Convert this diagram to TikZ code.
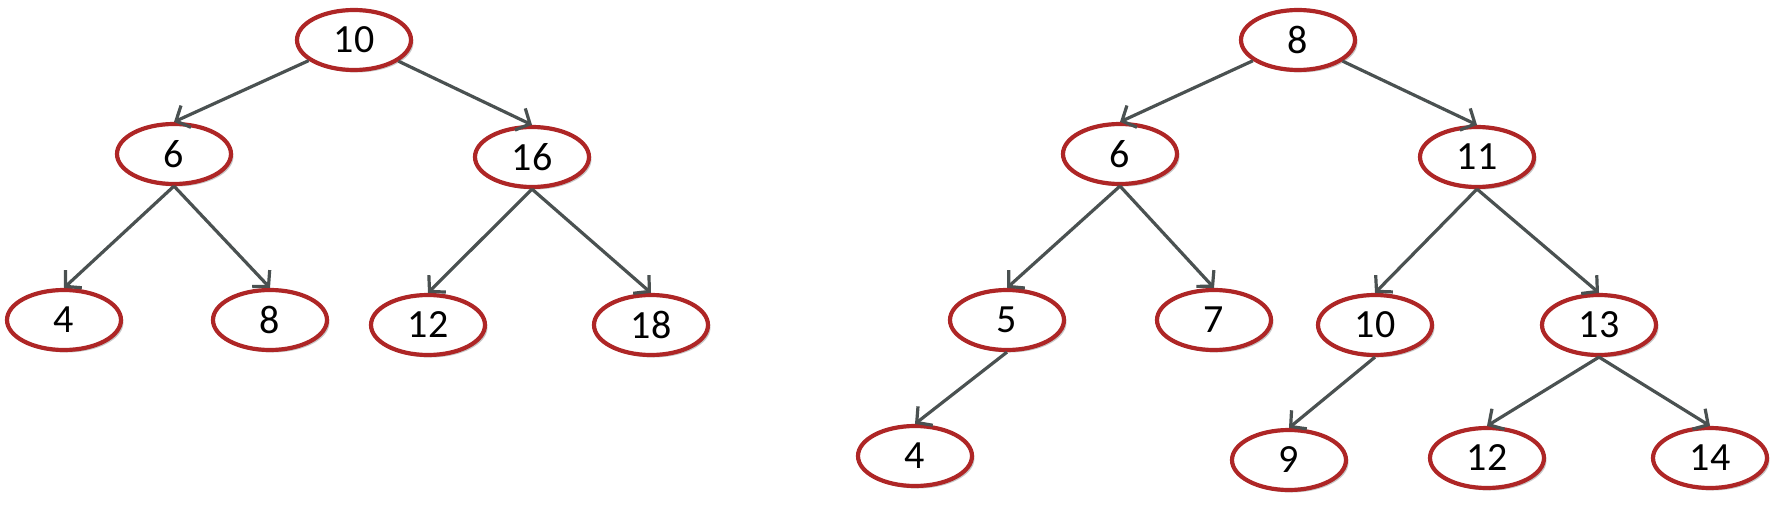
\documentclass[tikz,border=0pt]{standalone}
\usepackage{fontspec}
\setmainfont{Carlito}
\usetikzlibrary{shapes.geometric,arrows.meta,shadows}
\definecolor{nodered}{HTML}{AE2626}
\definecolor{edgegray}{HTML}{4A5151}
\tikzset{
  tn/.style={ellipse, draw=nodered, line width=4.2pt, fill=white,
    minimum width=114pt, minimum height=60pt, inner sep=0pt,
    font=\fontsize{40}{42}\selectfont,
    drop shadow={shadow xshift=2.5pt, shadow yshift=-2.5pt, opacity=0.22, fill=black}},
  te/.style={draw=edgegray, line width=3.2pt,
    -{Straight Barb[length=11pt,width=24pt,line width=3.2pt]}}
}
\begin{document}
\begin{tikzpicture}[x=1pt,y=-1pt]
\useasboundingbox (0,0) rectangle (1785,521);
% left tree
\node[tn] (L10) at (354,40) {10};
\node[tn] (L6) at (174,154) {6};
\node[tn] (L16) at (532,157) {16};
\node[tn] (L4) at (64,320) {4};
\node[tn] (L8) at (270,320) {8};
\node[tn] (L12) at (428,325) {12};
\node[tn] (L18) at (651,325) {18};
% right tree
\node[tn] (R8) at (1298,40) {8};
\node[tn] (R6) at (1120,154) {6};
\node[tn] (R11) at (1477,157) {11};
\node[tn] (R5) at (1007,320) {5};
\node[tn] (R7) at (1214,320) {7};
\node[tn] (R10) at (1375,325) {10};
\node[tn] (R13) at (1599,325) {13};
\node[tn] (R4) at (915,456) {4};
\node[tn] (R9) at (1289,460) {9};
\node[tn] (R12) at (1487,458) {12};
\node[tn] (R14) at (1710,458) {14};
% edges
\draw[te] (L10) -- (L6.north);
\draw[te] (L10) -- (L16.north);
\draw[te] (L6.south) -- (L4.north);
\draw[te] (L6.south) -- (L8.north);
\draw[te] (L16.south) -- (L12.north);
\draw[te] (L16.south) -- (L18.north);
\draw[te] (R8) -- (R6.north);
\draw[te] (R8) -- (R11.north);
\draw[te] (R6.south) -- (R5.north);
\draw[te] (R6.south) -- (R7.north);
\draw[te] (R11.south) -- (R10.north);
\draw[te] (R11.south) -- (R13.north);
\draw[te] (R5.south) -- (R4.north);
\draw[te] (R10.south) -- (R9.north);
\draw[te] (R13.south) -- (R12.north);
\draw[te] (R13.south) -- (R14.north);
\end{tikzpicture}
\end{document}
